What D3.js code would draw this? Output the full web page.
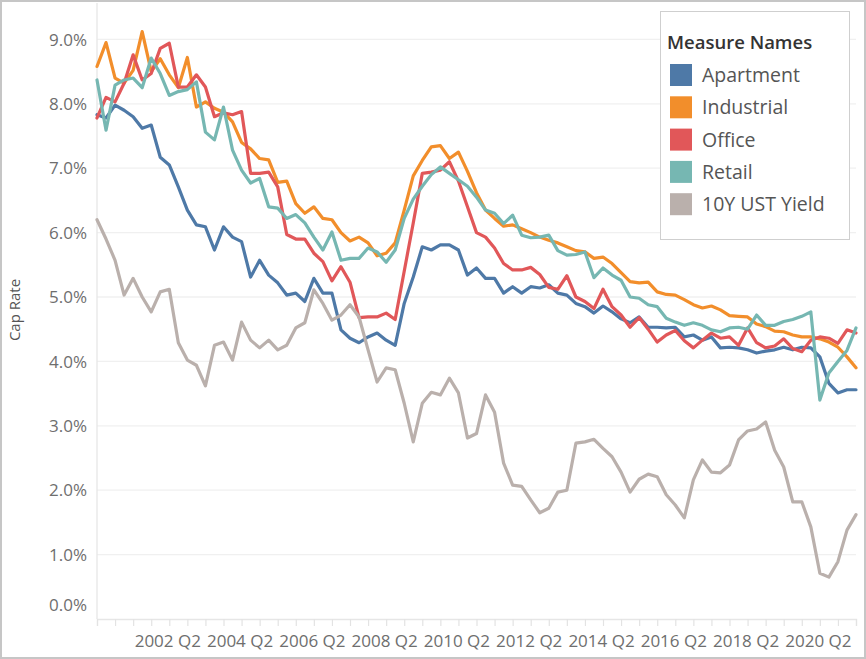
<!DOCTYPE html>
<html><head><meta charset="utf-8">
<script src="https://cdn.jsdelivr.net/npm/d3@7"></script>
<style>body{margin:0;background:#fff}svg{display:block}</style>
</head><body><svg id="c" width="866" height="659"></svg>
<script>
const quarters = [
"2000 Q2","2000 Q3","2000 Q4",
"2001 Q1","2001 Q2","2001 Q3","2001 Q4","2002 Q1","2002 Q2","2002 Q3","2002 Q4",
"2003 Q1","2003 Q2","2003 Q3","2003 Q4","2004 Q1","2004 Q2","2004 Q3","2004 Q4",
"2005 Q1","2005 Q2","2005 Q3","2005 Q4","2006 Q1","2006 Q2","2006 Q3","2006 Q4",
"2007 Q1","2007 Q2","2007 Q3","2007 Q4","2008 Q1","2008 Q2","2008 Q3","2008 Q4",
"2009 Q1","2009 Q2","2009 Q3","2009 Q4","2010 Q1","2010 Q2","2010 Q3","2010 Q4",
"2011 Q1","2011 Q2","2011 Q3","2011 Q4","2012 Q1","2012 Q2","2012 Q3","2012 Q4",
"2013 Q1","2013 Q2","2013 Q3","2013 Q4","2014 Q1","2014 Q2","2014 Q3","2014 Q4",
"2015 Q1","2015 Q2","2015 Q3","2015 Q4","2016 Q1","2016 Q2","2016 Q3","2016 Q4",
"2017 Q1","2017 Q2","2017 Q3","2017 Q4","2018 Q1","2018 Q2","2018 Q3","2018 Q4",
"2019 Q1","2019 Q2","2019 Q3","2019 Q4","2020 Q1","2020 Q2","2020 Q3","2020 Q4",
"2021 Q1","2021 Q2"];

const apartment = [7.83,7.78,7.98,7.90,7.80,7.62,7.67,7.17,7.05,6.71,
6.35,6.12,6.09,5.73,6.09,5.93,5.86,5.31,5.57,5.34,
5.22,5.03,5.06,4.93,5.29,5.06,5.06,4.49,4.36,4.29,
4.38,4.44,4.33,4.25,4.90,5.31,5.78,5.73,5.81,5.81,
5.73,5.34,5.45,5.29,5.29,5.06,5.16,5.06,5.16,5.14,
5.19,5.06,5.03,4.90,4.85,4.75,4.86,4.77,4.66,4.60,
4.69,4.53,4.53,4.52,4.53,4.38,4.41,4.33,4.38,4.21,
4.22,4.21,4.18,4.13,4.16,4.18,4.22,4.18,4.22,4.21,
4.07,3.66,3.51,3.56,3.56];

const industrial = [8.58,8.95,8.40,8.32,8.52,9.12,8.50,8.70,8.45,8.25,
8.72,7.95,8.03,7.93,7.87,7.72,7.40,7.30,7.15,7.13,
6.78,6.80,6.45,6.30,6.40,6.22,6.20,6.00,5.87,5.93,
5.84,5.64,5.68,5.84,6.35,6.88,7.12,7.33,7.35,7.15,
7.25,6.95,6.62,6.35,6.22,6.10,6.12,6.06,6.00,5.93,
5.88,5.84,5.78,5.72,5.70,5.60,5.62,5.52,5.38,5.24,
5.22,5.23,5.08,5.04,5.03,4.96,4.88,4.83,4.86,4.80,
4.71,4.70,4.69,4.58,4.54,4.47,4.46,4.41,4.38,4.38,
4.35,4.30,4.22,4.07,3.90];

const office = [7.78,8.10,8.03,8.32,8.76,8.37,8.47,8.86,8.94,8.26,
8.26,8.45,8.26,7.80,7.86,7.83,7.88,6.92,6.92,6.94,
6.71,5.97,5.90,5.90,5.68,5.55,5.25,5.47,5.23,4.68,
4.69,4.69,4.75,4.65,5.40,6.15,6.92,6.94,6.97,7.10,
6.80,6.40,6.00,5.93,5.76,5.52,5.42,5.42,5.46,5.35,
5.15,5.12,5.33,5.00,4.93,4.82,5.12,4.85,4.72,4.53,
4.68,4.50,4.30,4.41,4.48,4.32,4.21,4.33,4.44,4.36,
4.38,4.25,4.52,4.29,4.21,4.24,4.35,4.20,4.15,4.33,
4.38,4.36,4.28,4.49,4.44];

const retail = [8.37,7.59,8.29,8.37,8.40,8.25,8.71,8.47,8.13,8.19,
8.22,8.34,7.56,7.44,7.95,7.28,6.97,6.77,6.84,6.40,
6.38,6.22,6.28,6.15,5.93,5.73,6.01,5.57,5.60,5.60,
5.76,5.70,5.54,5.73,6.22,6.52,6.72,6.90,7.02,6.92,
6.82,6.72,6.55,6.35,6.30,6.14,6.27,5.96,5.92,5.93,
5.96,5.72,5.65,5.66,5.70,5.30,5.45,5.34,5.26,5.00,
4.98,4.88,4.85,4.67,4.61,4.56,4.60,4.56,4.49,4.46,
4.52,4.53,4.50,4.72,4.56,4.56,4.62,4.65,4.70,4.77,
3.40,3.82,4.00,4.17,4.52];

const ust10y = [6.20,5.90,5.57,5.03,5.29,5.00,4.77,5.08,5.12,4.29,
4.02,3.94,3.62,4.25,4.30,4.02,4.61,4.33,4.21,4.33,
4.18,4.25,4.52,4.60,5.11,4.90,4.64,4.72,4.88,4.69,
4.18,3.68,3.90,3.87,3.35,2.75,3.35,3.52,3.48,3.74,
3.51,2.81,2.88,3.48,3.21,2.42,2.08,2.06,1.85,1.65,
1.72,1.97,2.00,2.73,2.75,2.79,2.65,2.52,2.28,1.97,
2.17,2.25,2.21,1.93,1.77,1.57,2.16,2.47,2.28,2.27,
2.39,2.78,2.92,2.95,3.06,2.62,2.36,1.82,1.82,1.43,
0.71,0.65,0.89,1.38,1.62];

const seriesNames = ["Apartment","Industrial","Office","Retail","10Y UST Yield"];
const seriesColors = ["#4e79a7","#f28e2b","#e15759","#76b7b2","#bab0ac"];
const xTickLabels = ["2002 Q2","2004 Q2","2006 Q2","2008 Q2","2010 Q2","2012 Q2","2014 Q2","2016 Q2","2018 Q2","2020 Q2"];
const yTicks = [0,1,2,3,4,5,6,7,8,9];
const yTitle = "Cap Rate";
const legendTitle = "Measure Names";

const seriesValues = [apartment, industrial, office, retail, ust10y];
const W = 866, H = 659;
const L = 97, R = 856, T = 3, B = 619;
const svg = d3.select("#c");
const tickFont = "'Open Sans', sans-serif";

svg.append("rect").attr("x",1).attr("y",1).attr("width",W-2).attr("height",H-2)
  .attr("fill","#fff").attr("stroke","#c6c6c6").attr("stroke-width",2);

const x = d3.scalePoint().domain(quarters).range([L, R]);
const y = d3.scaleLinear().domain([0, 9]).range([B, 39.4]);

// gridlines
svg.append("g").selectAll("line").data(yTicks.filter(d => d > 0)).join("line")
  .attr("x1", L).attr("x2", R).attr("y1", d => y(d)).attr("y2", d => y(d))
  .attr("stroke", "#f0f0f0").attr("stroke-width", 1.3);

// vertical axis line
svg.append("line").attr("x1", L).attr("x2", L).attr("y1", T).attr("y2", B)
  .attr("stroke", "#e6e6e6").attr("stroke-width", 1.3);

// y labels
svg.append("g").selectAll("text").data(yTicks).join("text")
  .attr("x", 87).attr("y", d => d === 0 ? y(d) - 14 : y(d))
  .attr("dy", "0.36em").attr("text-anchor", "end")
  .attr("font-family", tickFont).attr("font-size", 17).attr("fill", "#6e6e6e")
  .text(d => d3.format(".1f")(d) + "%");

// x axis
const xTickVals = quarters.filter(q => q.endsWith("Q2") || q.endsWith("Q4"));
const xAxis = d3.axisBottom(x).tickValues(xTickVals).tickSize(7).tickPadding(9)
  .tickFormat(d => xTickLabels.includes(d) ? d : "");
const gx = svg.append("g").attr("transform", `translate(0,${B})`).call(xAxis);
gx.select(".domain").attr("stroke", "#e6e6e6").attr("stroke-width", 1.3);
gx.selectAll(".tick line").attr("stroke", "#e3e3e3").attr("stroke-width", 1.2);
gx.selectAll(".tick text").attr("font-family", tickFont).attr("font-size", 17)
  .attr("fill", "#6e6e6e").attr("dx", -2);

// y title
svg.append("text").attr("transform", `translate(20,310) rotate(-90)`)
  .attr("text-anchor", "middle").attr("font-family", tickFont).attr("font-size", 15)
  .attr("fill", "#555").text(yTitle);

// lines
const line = d3.line().x((d, i) => x(quarters[i])).y(d => y(d));
svg.append("g").selectAll("path").data(seriesValues).join("path")
  .attr("d", d => line(d)).attr("fill", "none")
  .attr("stroke", (d, i) => seriesColors[i]).attr("stroke-width", 3.2)
  .attr("stroke-linejoin", "round").attr("stroke-linecap", "round");

// legend
const lg = svg.append("g");
lg.append("rect").attr("x", 660.5).attr("y", 11.5).attr("width", 189).attr("height", 228)
  .attr("fill", "#fff").attr("stroke", "#cfcfcf").attr("stroke-width", 1);
lg.append("text").attr("x", 667).attr("y", 49).attr("font-family", tickFont)
  .attr("font-weight", 600).attr("font-size", 18.5).attr("fill", "#333").text(legendTitle);
const items = lg.selectAll("g.item").data(seriesNames).join("g").attr("class", "item")
  .attr("transform", (d, i) => `translate(0,${75 + i * 32.3})`);
items.append("rect").attr("x", 670).attr("y", -11).attr("width", 22).attr("height", 22)
  .attr("fill", (d, i) => seriesColors[i]);
items.append("text").attr("x", 702).attr("y", 0).attr("dy", "0.36em")
  .attr("font-family", tickFont).attr("font-size", 19.5).attr("fill", "#555").text(d => d);
</script></body></html>
